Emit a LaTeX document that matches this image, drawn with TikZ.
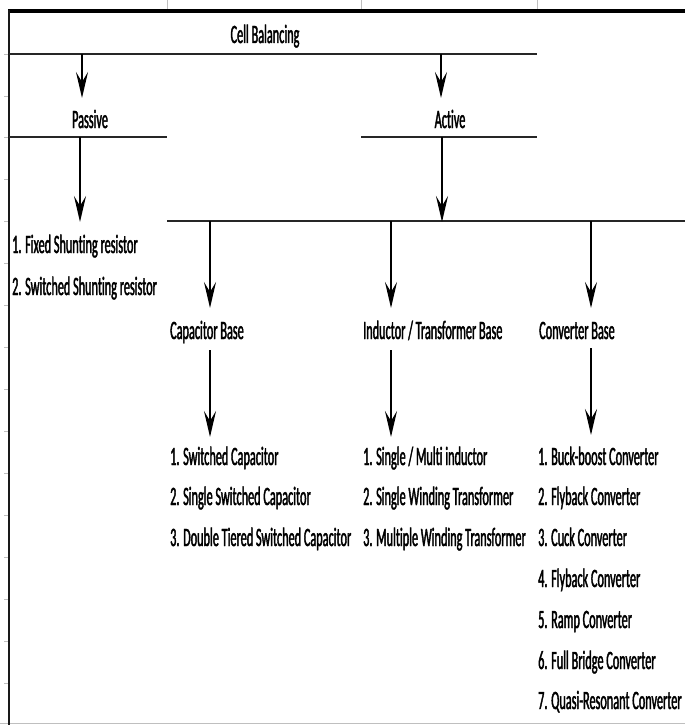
\documentclass[tikz,border=0pt]{standalone}
\usepackage{fontspec}
\newfontfamily\calfont[FakeStretch=0.462,FakeBold=1.5,Ligatures=NoCommon]{Carlito}
\usetikzlibrary{arrows.meta}
\tikzset{
  lbl/.style={inner sep=0pt, anchor=base, font=\calfont\fontsize{26.5}{30}\selectfont, text=black},
  lblw/.style={lbl, anchor=base west},
  cellline/.style={draw=black!85, line width=1.8pt},
  gridline/.style={draw=black!25, line width=0.8pt},
  arr/.style={draw=black, line width=2.8pt, -{Stealth[length=26pt,width=12pt,inset=10pt]}},
}
\begin{document}
\begin{tikzpicture}[x=1pt,y=-1pt]
\useasboundingbox (0,0) rectangle (685,725);
% faint spreadsheet grid marks
\foreach \gx in {167,361,537} \draw[gridline] (\gx,0) -- (\gx,10);
\foreach \gy in {54,96,137,179,221,263,305,347,389,431,473,515,557,599,641,683} \draw[gridline] (4,\gy) -- (9,\gy);
\draw[gridline] (0,723.5) -- (685,723.5);
% cell borders
\draw[draw=black, line width=3.5pt] (8,11) -- (685,11);
\draw[draw=black!90, line width=2pt] (9,10) -- (9,725);
\draw[cellline] (9,54) -- (537,54);
\draw[cellline] (9,137) -- (167,137);
\draw[cellline] (361,137) -- (537,137);
\draw[cellline] (167,221) -- (685,221);
% texts
\node[lbl] (cb) at (265,43) {Cell Balancing};
\node[lbl] (pas) at (90,128) {Passive};
\node[lbl] (act) at (450,128) {Active};
\node[lblw] (p1) at (12,253) {1. Fixed Shunting resistor};
\node[lblw] (p2) at (12,295) {2. Switched Shunting resistor};
\node[lblw] (cap) at (170,339) {Capacitor Base};
\node[lblw] (ind) at (363,339) {Inductor / Transformer Base};
\node[lblw] (conv) at (539,339) {Converter Base};
\node[lblw] (c1) at (170,465) {1. Switched Capacitor};
\node[lblw] (c2) at (170,505) {2. Single Switched Capacitor};
\node[lblw] (c3) at (170,546) {3. Double Tiered Switched Capacitor};
\node[lblw] (i1) at (363,465) {1. Single / Multi inductor};
\node[lblw] (i2) at (363,505) {2. Single Winding Transformer};
\node[lblw] (i3) at (363,546) {3. Multiple Winding Transformer};
\node[lblw] (v1) at (538,465) {1. Buck-boost Converter};
\node[lblw] (v2) at (538,505) {2. Flyback Converter};
\node[lblw] (v3) at (538,546) {3. Cuck Converter};
\node[lblw] (v4) at (538,587) {4. Flyback Converter};
\node[lblw] (v5) at (538,628) {5. Ramp Converter};
\node[lblw] (v6) at (538,669) {6. Full Bridge Converter};
\node[lblw] (v7) at (538,709) {7. Quasi-Resonant Converter};
% connector end points
\coordinate (cbP) at (82,54);   \coordinate (pasIn) at (82,98);
\coordinate (cbA) at (441,54);  \coordinate (actIn) at (441,98);
\coordinate (pasOut) at (80,137); \coordinate (plist) at (80,222);
\coordinate (actOut) at (442,137); \coordinate (actBus) at (442,222);
\coordinate (busC) at (210,221); \coordinate (capIn) at (210,308);
\coordinate (busI) at (391,221); \coordinate (indIn) at (391,308);
\coordinate (busV) at (591,221); \coordinate (convIn) at (591,308);
\coordinate (capOut) at (210,350); \coordinate (clist) at (210,437);
\coordinate (indOut) at (391,350); \coordinate (ilist) at (391,437);
\coordinate (convOut) at (591,348); \coordinate (vlist) at (591,435);
% arrows
\draw[arr] (cbP) -- (pasIn);
\draw[arr] (cbA) -- (actIn);
\draw[arr] (pasOut) -- (plist);
\draw[arr] (actOut) -- (actBus);
\draw[arr] (busC) -- (capIn);
\draw[arr] (busI) -- (indIn);
\draw[arr] (busV) -- (convIn);
\draw[arr] (capOut) -- (clist);
\draw[arr] (indOut) -- (ilist);
\draw[arr] (convOut) -- (vlist);
\end{tikzpicture}
\end{document}
